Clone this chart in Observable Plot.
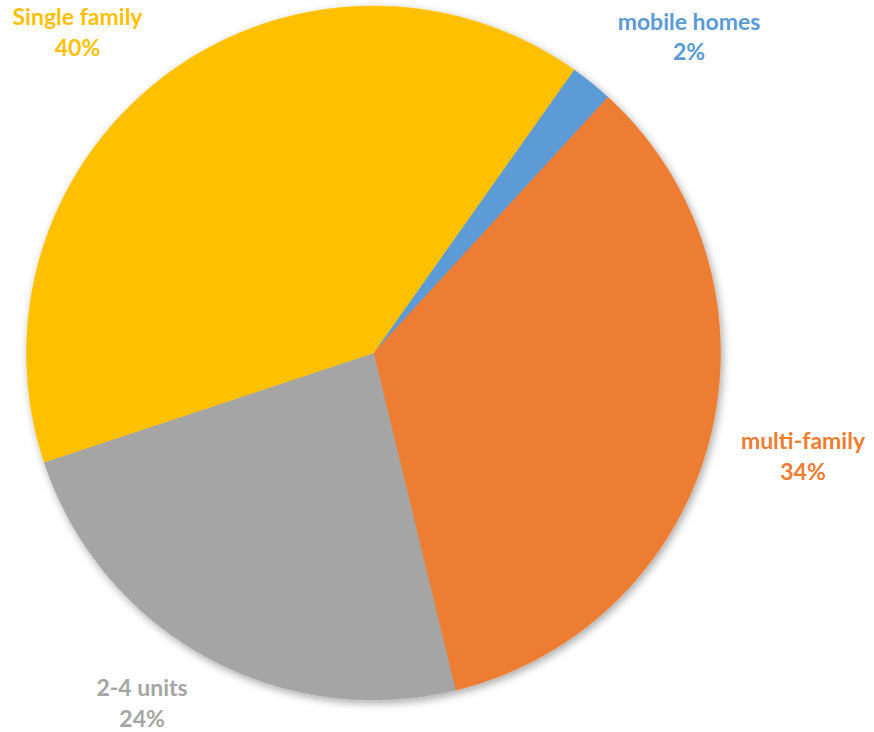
<!DOCTYPE html>
<html><head><meta charset="utf-8">
<script src="https://cdn.jsdelivr.net/npm/d3@7"></script>
<script src="https://cdn.jsdelivr.net/npm/@observablehq/plot@0.6"></script>
<style>body{margin:0;background:#fff}</style>
</head><body><div id="chart"></div>
<script>
const categories = ["mobile homes", "multi-family", "2-4 units", "Single family"];
const shares = [2.0, 34.4, 23.7, 39.9];
const percentLabels = ["2%", "34%", "24%", "40%"];
const colors = ["#5B9BD5", "#ED7D31", "#A5A5A5", "#FFC000"];
const startAngleDeg = 35.3;

const cx = 373, cy = 352.5, R = 347;
const fontSize = 23, lineHeight = 1.33;
const ctx = document.createElement("canvas").getContext("2d");
ctx.font = `bold ${fontSize}px Lato`;

const total = d3.sum(shares);
let acc = 0;
const polys = [];
const labels = [];
categories.forEach((c, i) => {
  const a0 = (startAngleDeg + acc / total * 360) * Math.PI / 180;
  acc += shares[i];
  const a1 = (startAngleDeg + acc / total * 360) * Math.PI / 180;
  polys.push({cat: c, x: 0, y: 0});
  const n = Math.max(2, Math.ceil((a1 - a0) / (Math.PI / 360)));
  for (let k = 0; k <= n; k++) {
    const a = a0 + (a1 - a0) * k / n;
    polys.push({cat: c, x: Math.sin(a), y: Math.cos(a)});
  }
  polys.push({cat: c, x: 0, y: 0});
  // outside-end label: box corner at a point just beyond the rim
  const m = (a0 + a1) / 2;
  const ux = Math.sin(m), uy = -Math.cos(m);
  const rp = R * 1.081;
  const w = 1.12 * Math.max(ctx.measureText(c).width, ctx.measureText(percentLabels[i]).width);
  const h = fontSize * lineHeight * 1.8;
  let px = cx + rp * ux + Math.sign(ux) * (w / 2) * Math.min(1, Math.abs(ux) * 2);
  let py = cy + rp * uy + Math.sign(uy) * (h / 2) * Math.min(1, Math.abs(uy) * 1.2);
  py = Math.max(30, Math.min(701, py));
  px = Math.max(w / 2 + 2, Math.min(872 - w / 2, px));
  labels.push({cat: c, x: (px - cx) / R, y: (cy - py) / R, text: c + "\n" + percentLabels[i]});
});

const chart = Plot.plot({
  width: 874,
  height: 732,
  margin: 0,
  style: {fontFamily: "Lato, 'Open Sans', sans-serif", background: "white"},
  x: {type: "linear", domain: [-1, 1], range: [cx - R, cx + R], axis: null},
  y: {type: "linear", domain: [-1, 1], range: [cy + R, cy - R], axis: null},
  color: {domain: categories, range: colors},
  marks: [
    Plot.line(polys, {x: "x", y: "y", z: "cat", fill: "cat", stroke: "cat", strokeWidth: 0.5, curve: "linear"}),
    Plot.text(labels, {x: "x", y: "y", text: "text", fill: "cat", fontSize, fontWeight: "bold", lineHeight, textAnchor: "middle"})
  ]
});

const ns = "http://www.w3.org/2000/svg";
const defs = document.createElementNS(ns, "defs");
defs.innerHTML = '<filter id="pieShadow" x="-10%" y="-10%" width="120%" height="120%"><feDropShadow dx="2" dy="3" stdDeviation="4.5" flood-color="#000" flood-opacity="0.35"/></filter>';
chart.insertBefore(defs, chart.firstChild);
const lineGroup = chart.querySelector('g[aria-label="line"]');
if (lineGroup) lineGroup.setAttribute("filter", "url(#pieShadow)");
document.getElementById("chart").appendChild(chart);
</script>
</body></html>
